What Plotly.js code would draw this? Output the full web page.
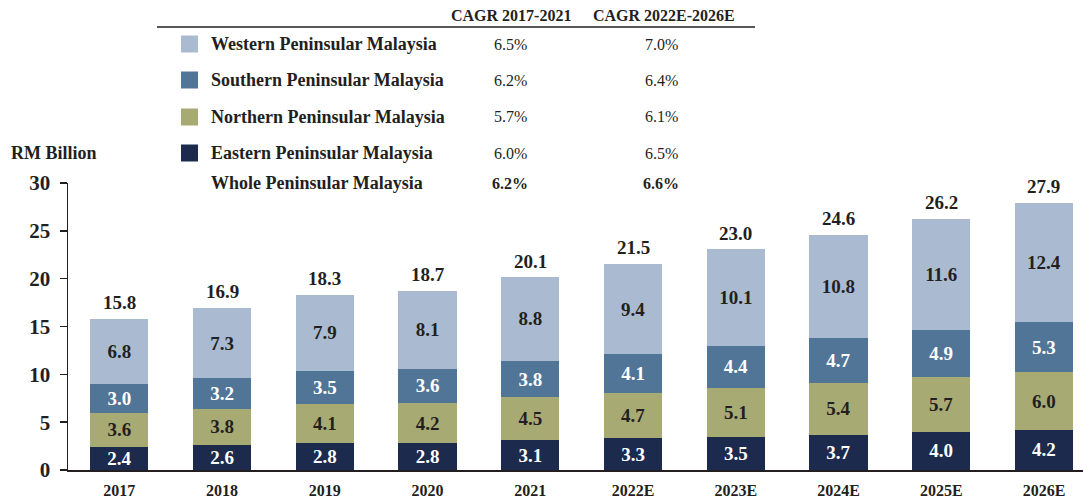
<!DOCTYPE html>
<html>
<head>
<meta charset="utf-8">
<script src="https://cdn.plot.ly/plotly-3.0.1.min.js"></script>
<style>html,body{margin:0;padding:0;background:#fff;}#chart{width:1083px;height:500px;}</style>
</head>
<body>
<div id="chart"></div>
<script>
const categories = ['2017','2018','2019','2020','2021','2022E','2023E','2024E','2025E','2026E'];
const eastern  = [2.4,2.6,2.8,2.8,3.1,3.3,3.5,3.7,4.0,4.2];
const northern = [3.6,3.8,4.1,4.2,4.5,4.7,5.1,5.4,5.7,6.0];
const southern = [3.0,3.2,3.5,3.6,3.8,4.1,4.4,4.7,4.9,5.3];
const western  = [6.8,7.3,7.9,8.1,8.8,9.4,10.1,10.8,11.6,12.4];
const totals   = [15.8,16.9,18.3,18.7,20.1,21.5,23.0,24.6,26.2,27.9];

const legendNames = ['Western Peninsular Malaysia','Southern Peninsular Malaysia','Northern Peninsular Malaysia','Eastern Peninsular Malaysia','Whole Peninsular Malaysia'];
const cagr1721 = ['6.5%','6.2%','5.7%','6.0%','6.2%'];
const cagr2226 = ['7.0%','6.4%','6.1%','6.5%','6.6%'];
const cagrHeaders = ['CAGR 2017-2021','CAGR 2022E-2026E'];

const colors = {western:'#AABBD1', southern:'#517597', northern:'#A8AA74', eastern:'#1B2A4D'};
const dark = '#231F20';
const FONT = '"Liberation Serif", "Times New Roman", serif';

const L = 68, T = 183, B = 30, W = 1083, H = 500;
const PW = W - L, PH = H - T - B;
const px = x => (x - L) / PW;
const py = y => (H - B - y) / PH;

function barTrace(name, vals, color, txtColor) {
  return {
    type:'bar', name:name, x:categories, y:vals,
    marker:{color:color, line:{width:0}},
    text: vals.map(v => v.toFixed(1)),
    textposition:'inside', insidetextanchor:'middle', constraintext:'none',
    textfont:{family:FONT, size:19, color:txtColor, weight:'bold'},
    hoverinfo:'skip', showlegend:false
  };
}

const traces = [
  barTrace(legendNames[3], eastern, colors.eastern, '#FFFFFF'),
  barTrace(legendNames[2], northern, colors.northern, dark),
  barTrace(legendNames[1], southern, colors.southern, '#FFFFFF'),
  barTrace(legendNames[0], western, colors.western, dark)
];

const annotations = [];
totals.forEach((t,i) => {
  annotations.push({x:i, y:t, xref:'x', yref:'y', text:'<b>'+t.toFixed(1)+'</b>',
    showarrow:false, yanchor:'bottom', yshift:4, font:{family:FONT, size:19, color:dark}});
});

// legend table
const rowY = [44, 80, 117, 153, 183];
const swatchColors = [colors.western, colors.southern, colors.northern, colors.eastern, null];
const shapes = [];
shapes.push({type:'line', xref:'paper', yref:'paper', x0:px(157), x1:px(755), y0:py(27), y1:py(27), line:{color:dark, width:1.5}});
cagrHeaders.forEach((h,j) => {
  annotations.push({xref:'paper', yref:'paper', x:px(j===0?511:664), y:py(16), text:'<b>'+h+'</b>', showarrow:false,
    xanchor:'center', yanchor:'middle', font:{family:FONT, size:16, color:dark}});
});
legendNames.forEach((n,i) => {
  if (swatchColors[i]) {
    shapes.push({type:'rect', xref:'paper', yref:'paper', x0:px(181), x1:px(198), y0:py(rowY[i]-8.5), y1:py(rowY[i]+8.5),
      fillcolor:swatchColors[i], line:{width:0}});
  }
  const bold = i === 4;
  annotations.push({xref:'paper', yref:'paper', x:px(209), y:py(rowY[i]), text:'<b>'+n+'</b>', showarrow:false,
    xanchor:'left', yanchor:'middle', font:{family:FONT, size:18, color:dark}});
  annotations.push({xref:'paper', yref:'paper', x:px(510), y:py(rowY[i]), text: bold ? '<b>'+cagr1721[i]+'</b>' : cagr1721[i], showarrow:false,
    xanchor:'center', yanchor:'middle', font:{family:FONT, size:16, color:dark}});
  annotations.push({xref:'paper', yref:'paper', x:px(661), y:py(rowY[i]), text: bold ? '<b>'+cagr2226[i]+'</b>' : cagr2226[i], showarrow:false,
    xanchor:'center', yanchor:'middle', font:{family:FONT, size:16, color:dark}});
});
annotations.push({xref:'paper', yref:'paper', x:px(9), y:py(153), text:'<b>RM Billion</b>', showarrow:false,
  xanchor:'left', yanchor:'middle', font:{family:FONT, size:18, color:dark}});

const layout = {
  width:W, height:H,
  margin:{l:L, r:0, t:T, b:B, pad:0},
  paper_bgcolor:'#fff', plot_bgcolor:'#fff',
  barmode:'stack', bargap:0.434,
  showlegend:false,
  font:{family:FONT, color:dark},
  xaxis:{type:'category', range:[-0.5, 9.38], showgrid:false, zeroline:false,
    showline:true, linecolor:dark, linewidth:1.5, ticks:'', ticklabelstandoff:5,
    tickfont:{family:FONT, size:16, color:dark, weight:'bold'}, fixedrange:true},
  yaxis:{range:[0,30], dtick:5, showgrid:false, zeroline:false,
    showline:true, linecolor:dark, linewidth:1.5, ticks:'outside', ticklen:7, tickwidth:1.5, tickcolor:dark,
    ticklabelstandoff:5,
    tickfont:{family:FONT, size:21, color:dark, weight:'bold'}, fixedrange:true},
  shapes:shapes, annotations:annotations
};

Plotly.newPlot('chart', traces, layout, {displayModeBar:false, staticPlot:true});
</script>
</body>
</html>
